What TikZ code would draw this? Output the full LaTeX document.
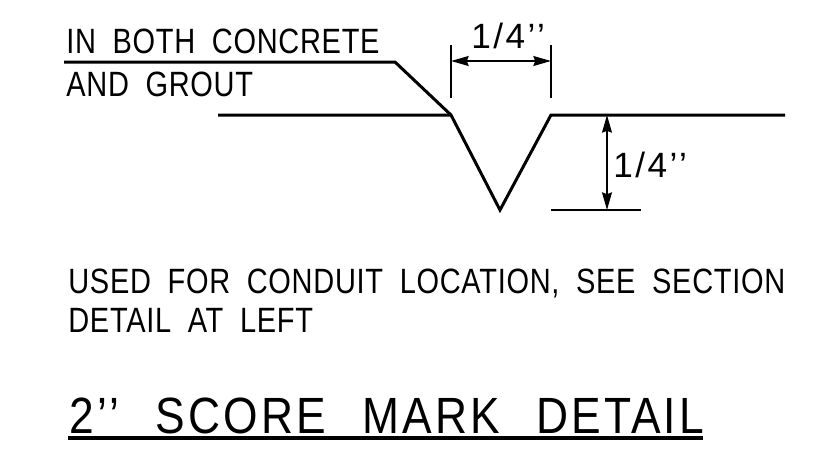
\documentclass[tikz,border=0pt]{standalone}
\usepackage{fontspec}
\setmainfont{Liberation Sans}
\newfontfamily\cadfont[FakeStretch=0.825,WordSpace=1.9,LetterSpace=2]{Liberation Sans}
\newfontfamily\dimfont[FakeStretch=1.0,LetterSpace=7]{Liberation Sans}
\newfontfamily\titlefont[FakeStretch=0.87,WordSpace=2.4,LetterSpace=6]{Liberation Sans}
\usetikzlibrary{arrows.meta}
\tikzset{
    every picture/.style={x=0.02cm,y=-0.02cm},
    thickline/.style={line width=1.7pt,line join=miter},
    thinline/.style={line width=1.1pt},
    dimline/.style={thinline,{Stealth[length=10pt,width=5.6pt,inset=1pt]}-{Stealth[length=10pt,width=5.6pt,inset=1pt]}},
    note/.style={inner sep=0pt,anchor=base west,font=\cadfont\fontsize{20pt}{22pt}\selectfont},
    dimnote/.style={inner sep=0pt,anchor=base west,font=\dimfont\fontsize{20pt}{22pt}\selectfont},
    bignote/.style={inner sep=0pt,anchor=base west,font=\titlefont\fontsize{29pt}{32pt}\selectfont},
}
\begin{document}
\begin{tikzpicture}
\useasboundingbox (0,0) rectangle (832,461);

\coordinate (leaderstart) at (64,62);
\coordinate (leaderbend) at (395,62);
\coordinate (surfleft) at (218,115);
\coordinate (edgeleft) at (451,115);
\coordinate (tip) at (500,210);
\coordinate (edgeright) at (551,115);
\coordinate (surfright) at (785,115);
\coordinate (ticklefttop) at (451,45);
\coordinate (tickleftbot) at (451,98);
\coordinate (tickrighttop) at (551,45);
\coordinate (tickrightbot) at (551,98);
\coordinate (dimleft) at (451,61);
\coordinate (dimright) at (551,61);
\coordinate (dimtop) at (607,115);
\coordinate (dimbot) at (607,210);
\coordinate (baseleft) at (551,210);
\coordinate (baseright) at (641,210);
\coordinate (ruleleft) at (68,438);
\coordinate (ruleright) at (703,438);

\node[note] (concrete) at (66,53) {IN BOTH CONCRETE};
\node[note] (grout) at (66,96) {AND GROUT};
\node[dimnote] (widthlabel) at (471,48) {1/4’’};
\node[dimnote] (depthlabel) at (613,177) {1/4’’};
\node[note] (conduit) at (68,293) {USED FOR CONDUIT LOCATION, SEE SECTION};
\node[note] (detail) at (68,332) {DETAIL AT LEFT};
\node[bignote] (title) at (69,433) {2’’ SCORE MARK DETAIL};

\draw[thickline] (surfleft) -- (edgeleft) -- (tip) -- (edgeright) -- (surfright);
\draw[thickline] (leaderstart) -- (leaderbend) -- (edgeleft);
\draw[thinline] (ticklefttop) -- (tickleftbot);
\draw[thinline] (tickrighttop) -- (tickrightbot);
\draw[dimline] (dimleft) -- (dimright);
\draw[dimline] (dimtop) -- (dimbot);
\draw[thinline] (baseleft) -- (baseright);
\draw[line width=2pt] (ruleleft) -- (ruleright);

\end{tikzpicture}
\end{document}
